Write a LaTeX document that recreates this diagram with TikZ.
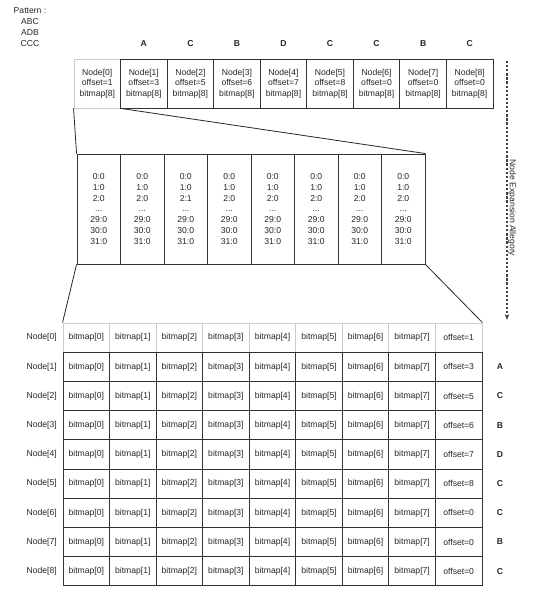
\documentclass[tikz,border=0pt]{standalone}
\usepackage{fontspec}
\setmainfont{Liberation Sans}
\usetikzlibrary{arrows.meta}
\begin{document}
\begin{tikzpicture}[x=1pt,y=-1pt,
  every node/.style={font=\fontsize{8.6}{10.6}\selectfont, text=black!85},
  topcell/.style={draw=black!80, line width=0.9pt, minimum width=46.55pt, minimum height=49pt, inner sep=0pt, align=center},
  topcelllight/.style={topcell, draw=black!20},
  midcell/.style={draw=black!80, line width=0.9pt, minimum width=43.5pt, minimum height=110pt, inner sep=0pt, align=center, font=\fontsize{8.6}{10.8}\selectfont},
  gridcell/.style={draw=black!80, line width=0.9pt, minimum width=46.55pt, minimum height=29.2pt, inner sep=0pt},
  gridlight/.style={gridcell, draw=black!20},
  letter/.style={font=\fontsize{8.6}{10.6}\selectfont\bfseries},
  rowlabel/.style={anchor=east, inner sep=0pt},
  link/.style={draw=black!85, line width=0.8pt}
]
\useasboundingbox (0,0) rectangle (532,604);

% Pattern text
\node[align=center, inner sep=0pt] (pat) at (30,11) {Pattern :};
\node[inner sep=0pt] (p1) at (30,22) {ABC};
\node[inner sep=0pt] (p2) at (30,33) {ADB};
\node[inner sep=0pt] (p3) at (30,44) {CCC};

% top row
\node[topcelllight] (t0) at ({74+0.5*46.55},83.5) {Node[0]\\offset=1\\bitmap[8]};
\foreach \i/\off/\ch in {1/3/A,2/5/C,3/6/B,4/7/D,5/8/C,6/0/C,7/0/B,8/0/C}{
  \node[topcell] (t\i) at ({74+(\i+0.5)*46.55},83.5) {Node[\i]\\offset=\off\\bitmap[8]};
  \node[letter, inner sep=0pt] (l\i) at ({74+(\i+0.5)*46.55},44) {\ch};
}

% middle row
\foreach \i in {0,...,7}{
  \ifnum\i=2
    \node[midcell] (m\i) at ({77+(\i+0.5)*43.5},209) {0:0\\1:0\\2:1\\...\\29:0\\30:0\\31:0};
  \else
    \node[midcell] (m\i) at ({77+(\i+0.5)*43.5},209) {0:0\\1:0\\2:0\\...\\29:0\\30:0\\31:0};
  \fi
}

% bottom grid, row 0 (light)
\foreach \c in {0,...,7}{
  \node[gridlight] (b0\c) at ({63+(\c+0.5)*46.55},{323+0.5*29.2}) {bitmap[\c]};
}
\node[gridlight] (b08) at ({63+8.5*46.55},{323+0.5*29.2}) {offset=1};
\node[rowlabel] (r0) at (57,{323+0.5*29.2}) {Node[0]};

\foreach \r/\off/\ch in {1/3/A,2/5/C,3/6/B,4/7/D,5/8/C,6/0/C,7/0/B,8/0/C}{
  \foreach \c in {0,...,7}{
    \node[gridcell] (b\r\c) at ({63+(\c+0.5)*46.55},{323+(\r+0.5)*29.2}) {bitmap[\c]};
  }
  \node[gridcell] (b\r8) at ({63+8.5*46.55},{323+(\r+0.5)*29.2}) {offset=\off};
  \node[rowlabel] (r\r) at (57,{323+(\r+0.5)*29.2}) {Node[\r]};
  \node[letter, inner sep=0pt] (rl\r) at (500,{323+(\r+0.5)*29.2}) {\ch};
}

% expansion lines
\draw[link] (t0.south west) -- (m0.north west);
\draw[link] (t0.south east) -- (m7.north east);
\draw[link] (m0.south west) -- (b00.north west);
\draw[link] (m7.south east) -- (b08.north east);

% dotted arrow
\coordinate (da) at (507,61);
\coordinate (db) at (507,320);
\draw[dash pattern=on 2.3pt off 1.8pt, line width=1.3pt, draw=black!75, -{Stealth[length=6pt,width=4.5pt]}] (da) -- (db);
\node[rotate=-90, inner sep=0pt] (lab) at (512,208) {Node Expansion Allegory};
\end{tikzpicture}
\end{document}
